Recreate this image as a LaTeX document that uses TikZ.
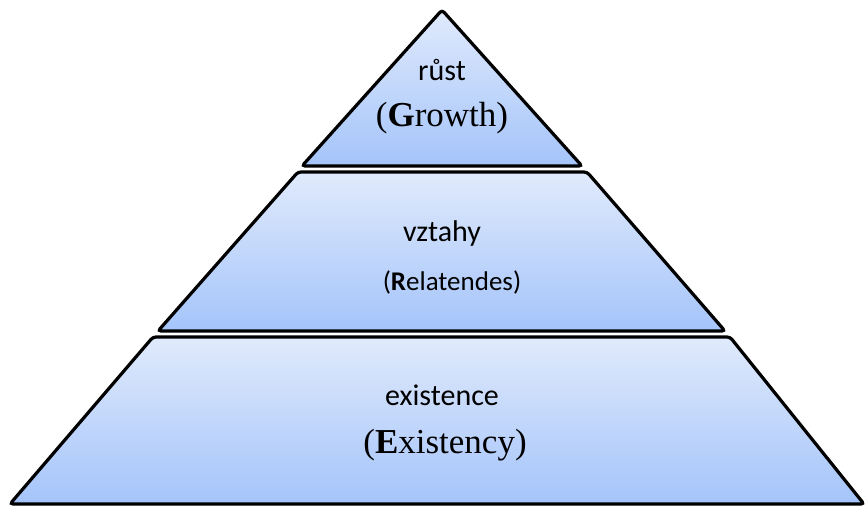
\documentclass[tikz,border=0pt]{standalone}
\usepackage{fontspec}
\setmainfont{Liberation Serif}
\newfontfamily\calibri{Carlito}
\definecolor{tiertop}{RGB}{224,234,252}
\definecolor{tierbottom}{RGB}{164,196,250}
\begin{document}
\begin{tikzpicture}[x=1pt,y=-1pt,
	tier/.style={draw=black,line width=3.2pt,rounded corners=3pt,top color=tiertop,bottom color=tierbottom},
	small/.style={font=\calibri\fontsize{30}{36}\selectfont},
	big/.style={font=\fontsize{35}{42}\selectfont}]
	\useasboundingbox (0,0) rectangle (866,508);
	% the three tiers
	\draw[tier] (442,10) -- (582,166) -- (302,166) -- cycle;
	\draw[tier] (298,172) -- (587,172) -- (725,331) -- (158,331) -- cycle;
	\draw[tier] (153,337) -- (730,337) -- (864,504) -- (10,504) -- cycle;
	% labels
	\node[small] (rust) at (442,70) {růst};
	\node[big] (growth) at (442,118) {(\textbf{G}rowth)};
	\node[small] (vztahy) at (442,233) {vztahy};
	\node[small,font=\calibri\fontsize{27}{32}\selectfont] (relat) at (452,282) {(\textbf{R}elatendes)};
	\node[small] (exist) at (442,395) {existence};
	\node[big] (existency) at (445,445) {(\textbf{E}xistency)};
\end{tikzpicture}
\end{document}
